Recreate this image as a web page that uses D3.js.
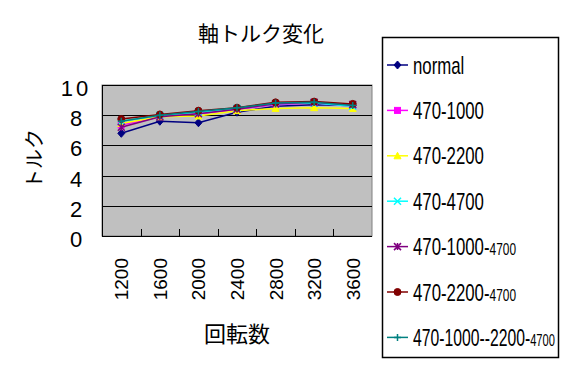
<!DOCTYPE html>
<html><head><meta charset="utf-8">
<script src="https://cdn.jsdelivr.net/npm/d3@7"></script>
<style>body{margin:0;background:#fff}svg{display:block}</style>
</head><body>
<svg id="c" width="563" height="365"></svg>
<script>
const categories = ["1200","1600","2000","2400","2800","3200","3600"];
const seriesNames = ["normal","470-1000","470-2200","470-4700","470-1000-4700","470-2200-4700","470-1000--2200-4700"];
const normal      = [6.8, 7.6, 7.5, 8.2, 8.6, 8.7, 8.65];
const s470_1000   = [7.35, 7.9, 8.1, 8.4, 8.7, 8.8, 8.6];
const s470_2200   = [7.45, 7.9, 7.95, 8.3, 8.45, 8.5, 8.45];
const s470_4700   = [7.6, 8.0, 8.2, 8.45, 8.75, 8.8, 8.6];
const s470_1000_4700 = [7.2, 7.9, 8.1, 8.4, 8.75, 8.85, 8.7];
const s470_2200_4700 = [7.75, 8.05, 8.3, 8.5, 8.85, 8.9, 8.75];
const s470_all    = [7.6, 8.0, 8.25, 8.5, 8.8, 8.85, 8.65];
const yTicks = [0,2,4,6,8,10];
const colors = ["#000080","#ff00ff","#ffff00","#00ffff","#800080","#800000","#008080"];
const markers = ["diamond","square","triangle","x","star","circle","plus"];
const allValues = [normal,s470_1000,s470_2200,s470_4700,s470_1000_4700,s470_2200_4700,s470_all];

const svg = d3.select("#c");
const L=102,R=372,T=85,B=236;
const x = d3.scaleBand().domain(categories).range([L,R]);
const y = d3.scaleLinear().domain([0,10]).range([B,T]);

// plot area
svg.append("rect").attr("x",L).attr("y",T).attr("width",R-L).attr("height",B-T)
  .attr("fill","#c0c0c0").attr("stroke","#808080").attr("stroke-width",1);
svg.append("g").selectAll("line").data(yTicks.filter(d=>d>0)).join("line")
  .attr("x1",L).attr("x2",R).attr("y1",d=>Math.round(y(d))+0.5).attr("y2",d=>Math.round(y(d))+0.5)
  .attr("stroke","#000").attr("stroke-width",1);
// axes
svg.append("line").attr("x1",L+0.5).attr("x2",L+0.5).attr("y1",T).attr("y2",B+1).attr("stroke","#000");
svg.append("line").attr("x1",L).attr("x2",R).attr("y1",B+0.5).attr("y2",B+0.5).attr("stroke","#000");
// inside x ticks at category boundaries
svg.append("g").selectAll("line").data(categories.slice(1)).join("line")
  .attr("x1",d=>Math.round(x(d))+0.5).attr("x2",d=>Math.round(x(d))+0.5)
  .attr("y1",B).attr("y2",B-7).attr("stroke","#000");

// y labels
svg.append("g").selectAll("text").data(yTicks).join("text")
  .attr("x",76).attr("y",d=>y(d)+11).attr("text-anchor","middle")
  .attr("font-family","Arial, Liberation Sans, sans-serif").attr("font-size",22)
  .attr("letter-spacing",d=>d>=10?3:0)
  .text(d=>d);
// x labels
svg.append("g").selectAll("text").data(categories).join("text")
  .attr("transform",d=>`translate(${x(d)+x.bandwidth()/2+7},258) rotate(-90)`)
  .attr("text-anchor","end")
  .attr("font-family","Arial, Liberation Sans, sans-serif").attr("font-size",19)
  .text(d=>d);

// titles
svg.append("text").attr("x",261).attr("y",41).attr("text-anchor","middle")
  .attr("font-family","Noto Sans CJK JP, sans-serif").attr("font-size",21).text("軸トルク変化");
svg.append("text").attr("x",237).attr("y",342).attr("text-anchor","middle")
  .attr("font-family","Noto Sans CJK JP, sans-serif").attr("font-size",22).text("回転数");
svg.append("text").attr("transform","translate(42,159) rotate(-90)").attr("text-anchor","middle")
  .attr("font-family","Noto Sans CJK JP, sans-serif").attr("font-size",20).text("トルク");

function marker(g, type, color, cx, cy){
  const s=3.5;
  if(type==="diamond") g.append("path").attr("d",`M${cx},${cy-s-0.5}L${cx+s},${cy}L${cx},${cy+s+0.5}L${cx-s},${cy}Z`).attr("fill",color).attr("stroke",color);
  else if(type==="square") g.append("rect").attr("x",cx-3).attr("y",cy-3).attr("width",6).attr("height",6).attr("fill",color).attr("stroke",color);
  else if(type==="triangle") g.append("path").attr("d",`M${cx},${cy-s}L${cx+s},${cy+s-0.5}L${cx-s},${cy+s-0.5}Z`).attr("fill",color).attr("stroke",color);
  else if(type==="x") g.append("path").attr("d",`M${cx-s},${cy-s}L${cx+s},${cy+s}M${cx+s},${cy-s}L${cx-s},${cy+s}`).attr("stroke",color).attr("stroke-width",1.5);
  else if(type==="star") g.append("path").attr("d",`M${cx-s},${cy-s}L${cx+s},${cy+s}M${cx+s},${cy-s}L${cx-s},${cy+s}M${cx},${cy-s}L${cx},${cy+s}`).attr("stroke",color).attr("stroke-width",1.5);
  else if(type==="circle") g.append("circle").attr("cx",cx).attr("cy",cy).attr("r",3.5).attr("fill",color).attr("stroke",color);
  else if(type==="plus") g.append("path").attr("d",`M${cx-s},${cy}L${cx+s},${cy}M${cx},${cy-s}L${cx},${cy+s}`).attr("stroke",color).attr("stroke-width",1.5);
}

const line = d3.line().x((d,i)=>x(categories[i])+x.bandwidth()/2).y(d=>y(d));
allValues.forEach((vals,k)=>{
  const g = svg.append("g");
  g.append("path").attr("d",line(vals)).attr("fill","none").attr("stroke",colors[k]).attr("stroke-width",1.5);
  vals.forEach((v,i)=>marker(g,markers[k],colors[k],x(categories[i])+x.bandwidth()/2,y(v)));
});

// legend
const lg = svg.append("g");
lg.append("rect").attr("x",382.5).attr("y",37.5).attr("width",176).attr("height",320)
  .attr("fill","#fff").attr("stroke","#000").attr("stroke-width",1.5);
const maxW = 142;
seriesNames.forEach((name,k)=>{
  const cy = 65 + 45.4*k;
  lg.append("line").attr("x1",387).attr("x2",408).attr("y1",cy).attr("y2",cy).attr("stroke",colors[k]).attr("stroke-width",1.5);
  marker(lg,markers[k],colors[k],397.5,cy);
  const t = lg.append("text")
    .attr("font-family","Arial, Liberation Sans, sans-serif").attr("font-size",24);
  const m = name.match(/^(.*-)(4700)$/);
  if(m && k>=4){
    t.append("tspan").text(m[1]);
    t.append("tspan").attr("font-size",17).text(m[2]);
  } else t.text(name);
  let sc = 0.7;
  const w = t.node().getComputedTextLength();
  if(w*sc > maxW) sc = maxW/w;
  t.attr("transform",`translate(413,${cy+8.5}) scale(${sc},1)`);
});
</script>
</body></html>
